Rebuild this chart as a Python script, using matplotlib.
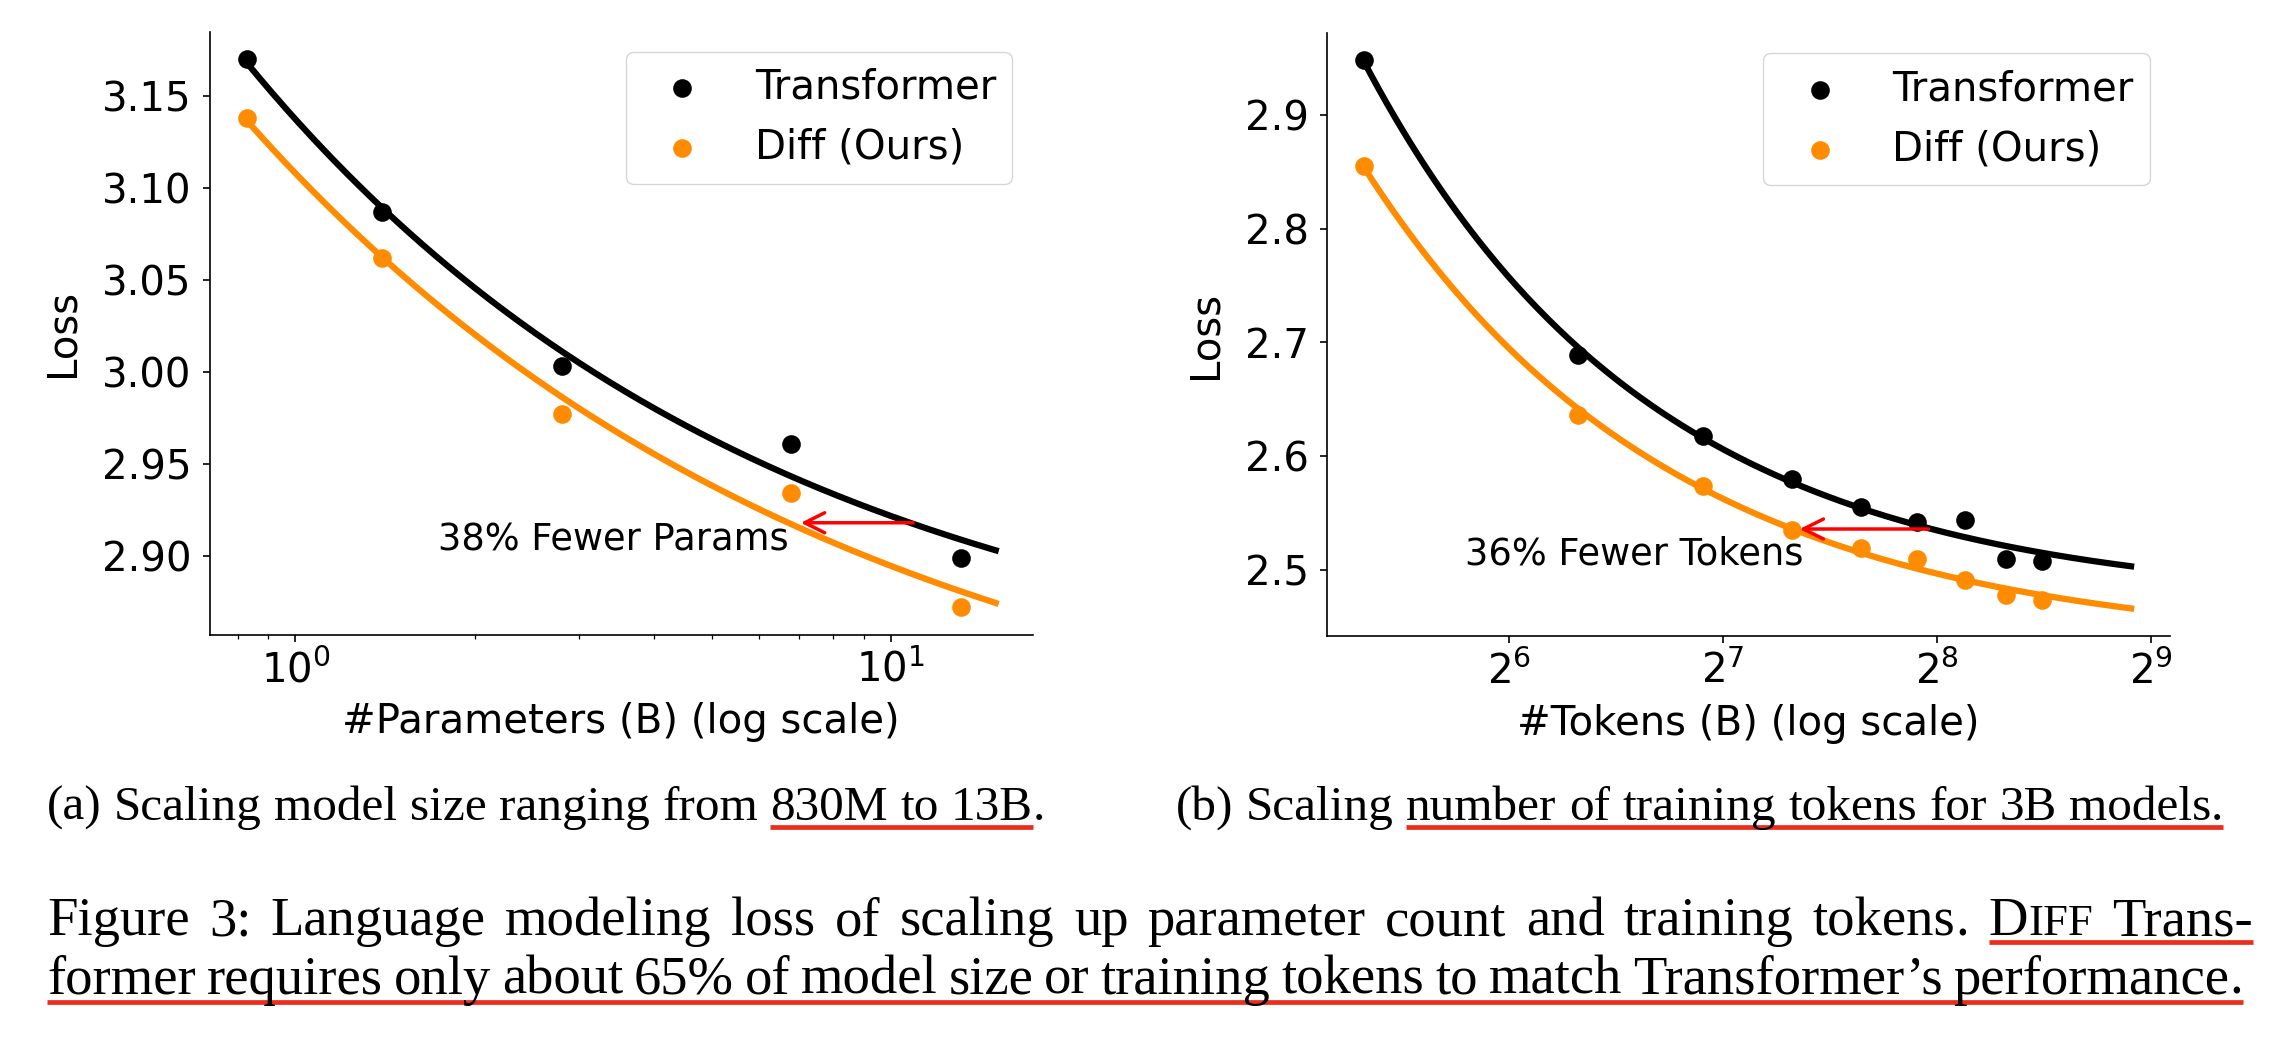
import matplotlib
matplotlib.use("Agg")
import matplotlib.pyplot as plt
from matplotlib.lines import Line2D
import numpy as np

# (a) scaling model size
params_b = [0.83, 1.4, 2.8, 6.8, 13.1]
loss_transformer_a = [3.170, 3.087, 3.003, 2.961, 2.899]
loss_diff_a = [3.138, 3.062, 2.977, 2.934, 2.872]
fit_end_a = 15.0

# (b) scaling training tokens (3B models)
tokens_b = [40, 80, 120, 160, 200, 240, 280, 320, 360]
loss_transformer_b = [2.948, 2.689, 2.618, 2.580, 2.555, 2.542, 2.544, 2.510, 2.508]
loss_diff_b = [2.855, 2.636, 2.574, 2.535, 2.519, 2.510, 2.491, 2.478, 2.474]
fit_end_b = 480

series_names = ["Transformer", "Diff (Ours)"]
series_colors = ["black", "darkorange"]

# "fewer" arrows: (text, text_x, text_y, arrow_from_x, arrow_to_x, arrow_y)
note_a = ("38% Fewer Params", 6.74, 2.903, 10.9, 7.06, 2.918)
note_b = ("36% Fewer Tokens", 166, 2.5045, 249, 164, 2.536)

caption_a = "(a) Scaling model size ranging from 830M to 13B."
caption_b = "(b) Scaling number of training tokens for 3B models."
caption_l1 = "Figure 3: Language modeling loss of scaling up parameter count and training tokens. DIFF Trans-"
caption_l2 = "former requires only about 65% of model size or training tokens to match Transformer\u2019s performance."

W, H = 2284, 1050
plt.rcParams["font.size"] = 29
plt.rcParams["axes.linewidth"] = 1.2
plt.rcParams["xtick.major.size"] = 5
plt.rcParams["ytick.major.size"] = 5
plt.rcParams["xtick.minor.size"] = 3
plt.rcParams["xtick.major.width"] = 1.2
plt.rcParams["ytick.major.width"] = 1.2
plt.rcParams["xtick.minor.width"] = 0.9
plt.rcParams["xtick.major.pad"] = 6
plt.rcParams["ytick.major.pad"] = 8

fig = plt.figure(figsize=(W / 100, H / 100), dpi=100)
renderer = fig.canvas.get_renderer()


def power_fit(x, y):
    # loss = E + A * x^-alpha, grid over alpha, least squares for E and A
    x = np.asarray(x, float)
    y = np.asarray(y, float)
    best = None
    for alpha in np.linspace(0.02, 3, 1500):
        X = np.column_stack([np.ones_like(x), x ** -alpha])
        coef = np.linalg.lstsq(X, y, rcond=None)[0]
        err = np.sum((X @ coef - y) ** 2)
        if best is None or err < best[0]:
            best = (err, alpha, coef)
    _, alpha, (e, a) = best
    return lambda t: e + a * np.asarray(t, float) ** -alpha


def draw_panel(ax, x, ys, fit_end, note, xlabel):
    grid = np.geomspace(x[0], fit_end, 300)
    for y, name, c in zip(ys, series_names, series_colors):
        ax.scatter(x, y, s=180, color=c, label=name, zorder=3, linewidths=0)
        ax.plot(grid, power_fit(x, y)(grid), color=c, lw=4.5, zorder=2)
    text, tx, ty, ax0, ax1, ay = note
    ax.text(tx, ty, text, fontsize=26.5, ha="right", va="baseline")
    ax.annotate("", xy=(ax1, ay), xytext=(ax0, ay),
                arrowprops=dict(arrowstyle="->", color="red", lw=2.5,
                                mutation_scale=36, shrinkA=0, shrinkB=0))
    ax.spines["top"].set_visible(False)
    ax.spines["right"].set_visible(False)
    ax.set_xlabel(xlabel, labelpad=8)
    ax.set_ylabel("Loss", labelpad=14)
    ax.legend(loc="upper right")


ax1 = fig.add_axes([209.7 / W, 1 - 635 / H, (1032.6 - 209.7) / W, (635 - 31.5) / H])
ax1.set_xscale("log")
draw_panel(ax1, params_b, [loss_transformer_a, loss_diff_a], fit_end_a, note_a,
           "#Parameters (B) (log scale)")
ax1.set_xlim(0.718, 17.3)
ax1.set_ylim(2.857, 3.185)

ax2 = fig.add_axes([1327.2 / W, 1 - 636.4 / H, (2169.7 - 1327.2) / W, (636.4 - 33) / H])
ax2.set_xscale("log", base=2)
draw_panel(ax2, tokens_b, [loss_transformer_b, loss_diff_b], fit_end_b, note_b,
           "#Tokens (B) (log scale)")
ax2.set_xlim(35.5, 544)
ax2.set_ylim(2.4416, 2.972)
ax2.set_yticks([2.5, 2.6, 2.7, 2.8, 2.9])

# ---- captions (Times-like serif, justified where the paper justifies)
SERIF = "Liberation Serif"
UL_RED = "#ec2d1c"


def to_fig(px, py):
    return px / W, 1 - py / H


def width_of(t):
    return t.get_window_extent(renderer).width


def split_words(line):
    words = []
    for w in line.split(" "):
        if w == "DIFF":
            words.append([("D", 1.0), ("IFF", 0.82)])
        elif w.endswith(".") and len(w) > 1:
            words.append([(w[:-1], 1.0), (".", 1.0)])
        else:
            words.append([(w, 1.0)])
    return words


def set_line(line, x0, y, size, x1=None):
    words = split_words(line)
    placed, widths = [], []
    for word in words:
        parts = []
        for s, f in word:
            t = fig.text(0, 0, s, fontsize=size * f, family=SERIF, ha="left", va="baseline")
            parts.append((t, width_of(t)))
        placed.append(parts)
        widths.append(sum(p[1] for p in parts))
    p1 = fig.text(0, 0, "x x", fontsize=size, family=SERIF)
    p2 = fig.text(0, 0, "xx", fontsize=size, family=SERIF)
    space = width_of(p1) - width_of(p2)
    p1.remove()
    p2.remove()
    if x1 is not None:
        space = (x1 - x0 - sum(widths)) / (len(words) - 1)
    extents = []
    x = x0
    for parts in placed:
        ext = []
        for t, pw in parts:
            t.set_position(to_fig(x, y))
            ext.append((x, x + pw))
            x += pw
        extents.append(ext)
        x += space
    return extents


def underline(xa, xb, y):
    fx0, fy = to_fig(xa, y)
    fx1, _ = to_fig(xb, y)
    fig.add_artist(Line2D([fx0, fx1], [fy, fy], color=UL_RED, lw=3.4,
                          solid_capstyle="butt", transform=fig.transFigure))


ext = set_line(caption_a, 47, 820, 35.5)
underline(ext[6][0][0], ext[8][0][1], 827)

ext = set_line(caption_b, 1176, 820, 35.5)
underline(ext[2][0][0], ext[-1][-1][1], 827)

ext = set_line(caption_l1, 47, 935, 39.3, x1=2253)
underline(ext[-2][0][0], ext[-1][-1][1], 942)

ext = set_line(caption_l2, 47, 994, 39.3, x1=2243)
underline(ext[0][0][0], ext[-1][-1][1], 1002)

fig.savefig("out.png", dpi=100)
